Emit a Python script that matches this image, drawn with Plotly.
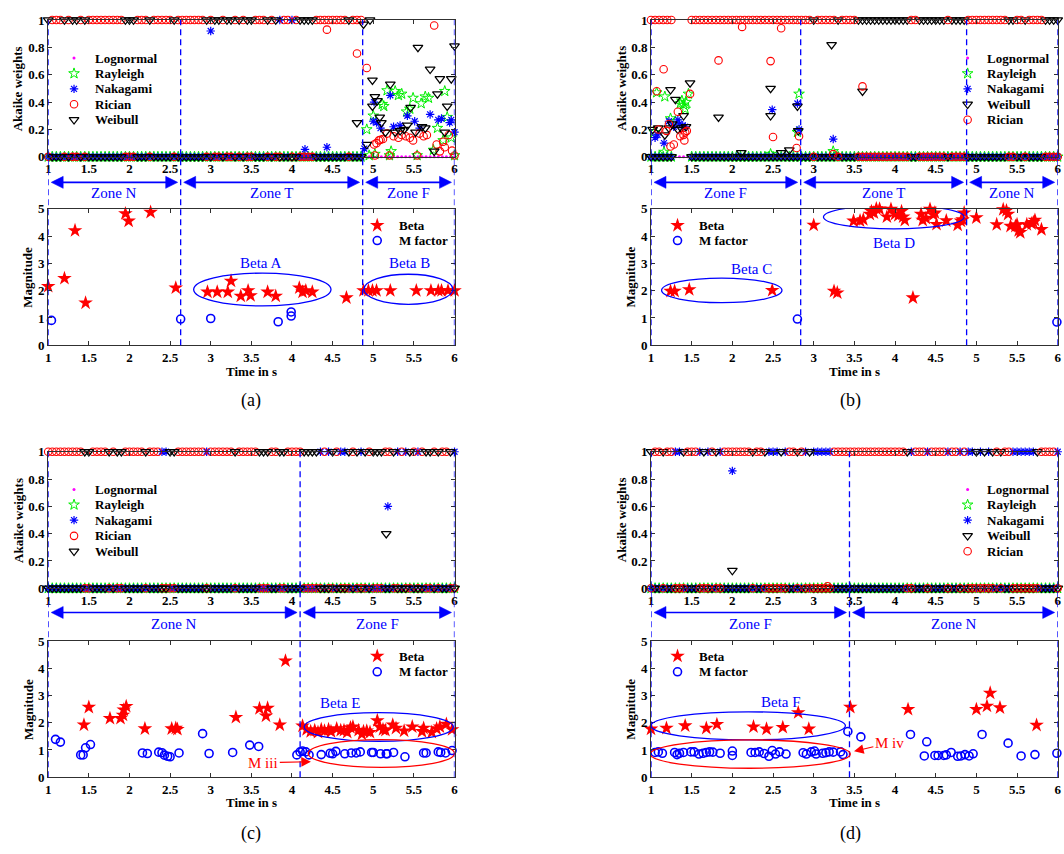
import numpy as np
import plotly.graph_objects as go

W, H = 1064, 854
FONT = "Liberation Serif, Times New Roman, serif"

# ---------------- shared axis data ----------------
t_grid = np.round(np.arange(1.0, 6.0 + 1e-9, 0.05), 2)   # analysis time instants (s)
x_tick_vals = [1, 1.5, 2, 2.5, 3, 3.5, 4, 4.5, 5, 5.5, 6]
x_tick_text = ["1", "1.5", "2", "2.5", "3", "3.5", "4", "4.5", "5", "5.5", "6"]
w_tick_vals = [0, 0.2, 0.4, 0.6, 0.8, 1]
w_tick_text = ["0", "0.2", "0.4", "0.6", "0.8", "1"]
m_tick_vals = [0, 1, 2, 3, 4, 5]
m_tick_text = ["0", "1", "2", "3", "4", "5"]

models_ac = ["Lognormal", "Rayleigh", "Nakagami", "Rician", "Weibull"]
models_bd = ["Lognormal", "Rayleigh", "Nakagami", "Weibull", "Rician"]

# ---------------- panel (a) ----------------
zone_bounds_a = [1.0, 2.63, 4.87, 6.0]
zone_names_a = ["Zone N", "Zone T", "Zone F"]
win_seg_a = [(1.00, 4.87, "Rician")]
mixed_a = [(4.87, 6.01)]
win_exc_a = {
    "Weibull": [1.00, 1.19, 1.28, 1.35, 1.44, 1.94, 1.98, 2.04, 2.07, 2.24, 2.57, 2.96, 3.03,
                3.09, 3.21, 3.26, 3.37, 3.45, 3.49, 3.70, 3.78, 4.09, 4.15, 4.19, 4.25, 4.68],
    "Nakagami": [3.86, 3.98],
}
mid_a = {
    "Weibull": [(4.80, 0.25), (4.88, 0.97), (4.92, 0.09), (4.96, 1.0), (4.99, 0.56), (4.99, 0.37),
                (5.02, 0.44), (5.05, 0.41), (5.08, 0.29), (5.10, 0.25), (5.15, 0.18), (5.21, 0.53),
                (5.27, 0.18), (5.33, 0.19), (5.38, 0.20), (5.42, 0.23), (5.46, 0.36), (5.52, 0.18),
                (5.55, 0.80), (5.60, 0.22), (5.64, 0.21), (5.70, 0.64), (5.75, 0.04), (5.79, 0.46),
                (5.82, 0.57), (5.88, 0.18), (5.91, 0.37), (5.96, 0.57), (6.00, 0.81)],
    "Rayleigh": [(4.92, 0.20), (4.95, 0.01), (5.00, 0.30), (5.02, 0.02), (5.11, 0.385), (5.13, 0.37),
                 (5.17, 0.485), (5.20, 0.01), (5.22, 0.04), (5.27, 0.48), (5.31, 0.45), (5.35, 0.46),
                 (5.41, 0.33), (5.45, 0.35), (5.49, 0.43), (5.54, 0.01), (5.59, 0.39), (5.64, 0.44),
                 (5.68, 0.43), (5.74, 0.05), (5.79, 0.21), (5.86, 0.12), (5.88, 0.48), (5.91, 0.29),
                 (5.96, 0.14), (6.00, 0.01)],
    "Nakagami": [(3.00, 0.92), (4.16, 0.055), (4.43, 0.07), (4.89, 0.06), (5.00, 0.26), (5.01, 0.40),
                 (5.04, 0.25), (5.09, 0.21), (5.21, 0.45), (5.25, 0.22), (5.33, 0.23), (5.42, 0.30),
                 (5.51, 0.26), (5.57, 0.21), (5.70, 0.31), (5.80, 0.27), (5.84, 0.28), (5.94, 0.25),
                 (5.96, 0.27), (6.00, 0.18)],
    "Rician": [(4.43, 0.93), (4.80, 0.755), (4.92, 0.65), (5.01, 0.09), (5.04, 0.10), (5.07, 0.12),
               (5.09, 0.125), (5.12, 0.13), (5.17, 0.17), (5.02, 0.01), (5.20, 0.01), (5.25, 0.15),
               (5.31, 0.14), (5.35, 0.16), (5.40, 0.15), (5.45, 0.14), (5.49, 0.12), (5.54, 0.01),
               (5.57, 0.17), (5.62, 0.15), (5.66, 0.16), (5.75, 0.96), (5.78, 0.09), (5.82, 0.04),
               (5.86, 0.11), (5.88, 0.07), (5.93, 0.16), (5.97, 0.045), (6.00, 0.01)],
}
beta_t_a = [1.00, 1.20, 1.33, 1.46, 1.95, 1.99, 2.26, 2.57, 2.96, 3.08, 3.21, 3.25, 3.37, 3.46, 3.49,
            3.70, 3.80, 4.09, 4.13, 4.17, 4.25, 4.67, 4.88, 4.94, 4.99, 5.04, 5.21, 5.53, 5.71, 5.80,
            5.84, 5.92, 6.00]
beta_v_a = [2.16, 2.45, 4.20, 1.55, 4.82, 4.55, 4.87, 2.10, 1.95, 1.95, 1.95, 2.35, 1.80, 2.00, 1.82,
            1.95, 1.80, 2.10, 1.95, 2.00, 1.95, 1.74, 2.00, 2.00, 2.00, 2.00, 2.00, 2.00, 2.00, 2.00,
            2.00, 2.00, 2.00]
mfac_t_a = [1.04, 2.63, 3.00, 3.83, 3.99, 3.99]
mfac_v_a = [0.91, 0.96, 0.98, 0.86, 1.22, 1.07]
ell_a = [(2.79, 4.48, 1.44, 2.64, "blue"), (4.885, 5.98, 1.50, 2.60, "blue")]
lab_a = [("Beta A", 3.61, 3.00, "blue"), ("Beta B", 5.44, 3.00, "blue")]
arr_a = []

# ---------------- panel (b) ----------------
zone_bounds_b = [1.0, 2.84, 4.88, 6.0]
zone_names_b = ["Zone F", "Zone T", "Zone N"]
win_seg_b = [(1.00, 6.00, "Rician"), (3.52, 4.86, "Weibull")]
mixed_b = [(1.295, 1.455)]
win_exc_b = {
    "Weibull": [2.98, 3.28, 5.40, 5.44, 5.58, 5.62, 5.86, 5.90, 5.94, 5.98],
    "Rician": [4.20, 4.24, 4.66],
}
mid_b = {
    "Rician": [(1.07, 0.48), (1.09, 0.20), (1.155, 0.64), (1.19, 0.19), (1.22, 0.24), (1.24, 0.075),
               (1.28, 0.09), (1.33, 0.33), (1.36, 0.15), (1.40, 0.16), (1.41, 0.12), (1.42, 0.18),
               (1.44, 0.19), (1.48, 0.46), (1.83, 0.705), (2.12, 0.95), (2.47, 0.70), (2.50, 0.145),
               (2.60, 0.94), (2.79, 0.065), (2.82, 0.15), (3.24, 0.02), (3.60, 0.515)],
    "Weibull": [(1.02, 0.20), (1.09, 0.21), (1.17, 0.16), (1.22, 0.21), (1.24, 0.49), (1.26, 0.24),
                (1.30, 0.42), (1.33, 0.20), (1.37, 0.21), (1.40, 0.30), (1.43, 0.22), (1.48, 0.54),
                (1.83, 0.29), (2.11, 0.03), (2.47, 0.50), (2.47, 0.30), (2.60, 0.03), (2.70, 0.05),
                (2.80, 0.37), (2.81, 0.19), (3.22, 0.82), (3.60, 0.48)],
    "Rayleigh": [(1.04, 0.18), (1.07, 0.47), (1.16, 0.035), (1.17, 0.44), (1.24, 0.28), (1.30, 0.26),
                 (1.36, 0.39), (1.38, 0.41), (1.40, 0.38), (1.42, 0.35), (1.43, 0.40), (1.46, 0.46),
                 (2.47, 0.02), (2.80, 0.18), (2.82, 0.46), (3.24, 0.04)],
    "Nakagami": [(1.05, 0.14), (1.08, 0.16), (1.16, 0.10), (1.22, 0.26), (1.28, 0.22), (1.33, 0.27),
                 (1.35, 0.24), (1.39, 0.23), (1.42, 0.22), (2.49, 0.345), (2.80, 0.39), (2.82, 0.20),
                 (3.24, 0.13)],
}
beta_t_b = [1.24, 1.29, 1.47, 2.49, 3.00, 3.25, 3.29, 3.49, 3.57, 3.61, 3.69, 3.71, 3.74, 3.77, 3.81,
            3.90, 3.95, 4.00, 4.04, 4.08, 4.10, 4.12, 4.22, 4.32, 4.34, 4.38, 4.43, 4.47, 4.49, 4.51,
            4.63, 4.77, 4.81, 4.83, 4.85, 5.00, 5.25, 5.33, 5.37, 5.39, 5.42, 5.48, 5.50, 5.52, 5.54,
            5.62, 5.68, 5.70, 5.72, 5.80]
beta_v_b = [1.98, 1.98, 2.04, 2.01, 4.40, 1.98, 1.92, 4.55, 4.56, 4.60, 4.80, 4.90, 4.85, 5.00, 4.99,
            4.70, 4.98, 4.80, 4.75, 4.90, 4.70, 4.58, 1.74, 4.80, 4.58, 4.65, 4.98, 4.78, 4.85, 4.43,
            4.56, 4.40, 4.55, 4.60, 4.85, 4.67, 4.42, 4.97, 4.93, 4.80, 4.36, 4.36, 4.42, 4.20, 4.13,
            4.42, 4.45, 4.50, 4.58, 4.24]
mfac_t_b = [2.80, 5.99]
mfac_v_b = [0.96, 0.85]
ell_b = [(1.13, 2.61, 1.56, 2.46, "blue"), (3.12, 4.85, 4.26, 5.13, "blue")]
lab_b = [("Beta C", 2.24, 2.79, "blue"), ("Beta D", 3.99, 3.75, "blue")]
arr_b = []

# ---------------- panel (c) ----------------
zone_bounds_c = [1.0, 4.10, 6.0]
zone_names_c = ["Zone N", "Zone F"]
win_seg_c = [(1.00, 4.10, "Rician"), (4.11, 6.00, "Nakagami")]
mixed_c = []
win_exc_c = {
    "Weibull": [1.44, 1.50, 1.76, 1.86, 1.88, 1.92, 2.20, 2.52, 2.56, 3.32, 3.60, 3.64, 3.70, 3.84,
                3.90, 4.14, 4.18, 4.22, 4.26, 4.30, 4.40, 4.42, 4.50, 4.54, 4.72, 4.78, 4.80, 4.90,
                4.96, 5.00, 5.04, 5.10, 5.16, 5.24, 5.36, 5.46, 5.50, 5.58, 5.64, 5.70, 5.76, 5.82,
                5.88, 5.96],
    "Rician": [4.38, 4.56, 4.76, 4.94, 5.14, 5.20, 5.34, 5.48, 5.62, 5.74, 5.86, 5.92],
    "Nakagami": [2.42, 2.44, 2.46, 2.94],
}
mid_c = {"Nakagami": [(5.18, 0.60)], "Weibull": [(5.16, 0.40)]}
beta_t_c = [1.44, 1.50, 1.76, 1.89, 1.92, 1.93, 1.96, 2.19, 2.52, 2.57, 2.59, 3.31, 3.60, 3.68, 3.70,
            3.85, 3.92, 4.13, 4.18, 4.23, 4.28, 4.32, 4.36, 4.40, 4.45, 4.48, 4.55, 4.60, 4.64, 4.68,
            4.72, 4.75, 4.82, 4.86, 4.88, 4.92, 4.96, 5.05, 5.08, 5.12, 5.15, 5.24, 5.28, 5.38, 5.48,
            5.60, 5.62, 5.72, 5.78, 5.82, 5.90, 5.97]
beta_v_c = [1.92, 2.57, 2.16, 2.16, 2.28, 2.47, 2.60, 1.78, 1.78, 1.80, 1.76, 2.20, 2.52, 2.25, 2.54,
            1.92, 4.27, 1.88, 1.75, 1.68, 1.72, 1.65, 1.75, 1.70, 1.75, 1.68, 1.78, 1.72, 1.72, 1.65,
            1.82, 1.85, 1.72, 1.58, 1.68, 1.70, 1.65, 2.08, 1.85, 1.75, 1.72, 1.92, 1.80, 1.70, 1.85,
            1.68, 1.80, 1.65, 1.78, 1.85, 1.95, 1.75]
mfac_t_c = [1.09, 1.15, 1.40, 1.43, 1.46, 1.52, 2.16, 2.22, 2.36, 2.40, 2.43, 2.47, 2.50, 2.61, 2.90,
            2.98, 3.27, 3.48, 3.59, 4.06, 4.10, 4.13, 4.17, 4.21, 4.36, 4.47, 4.50, 4.54, 4.65, 4.73,
            4.79, 4.84, 4.98, 5.00, 5.09, 5.16, 5.17, 5.25, 5.39, 5.62, 5.65, 5.80, 5.83, 5.89, 5.97]
mfac_v_c = [1.39, 1.29, 0.82, 0.82, 1.08, 1.20, 0.89, 0.87, 0.92, 0.90, 0.81, 0.77, 0.75, 0.89, 1.60,
            0.87, 0.91, 1.18, 1.13, 0.82, 0.93, 0.96, 0.93, 0.82, 0.83, 0.88, 0.86, 0.95, 0.86, 0.89,
            0.89, 0.93, 0.91, 0.91, 0.86, 0.86, 0.86, 0.91, 0.75, 0.89, 0.89, 0.93, 0.91, 0.89, 0.98]
ell_c = [(4.15, 5.985, 1.32, 2.37, "blue"), (4.20, 6.00, 0.36, 1.38, "red")]
lab_c = [("Beta E", 4.59, 2.73, "blue")]
arr_c = [("M iii", 4.233, 0.57, 3.647, 0.53)]

# ---------------- panel (d) ----------------
zone_bounds_d = [1.0, 3.44, 6.0]
zone_names_d = ["Zone F", "Zone N"]
win_seg_d = [(1.00, 6.00, "Nakagami"), (1.86, 2.20, "Rician"), (3.45, 4.15, "Rician")]
mixed_d = []
win_exc_d = {
    "Rician": [1.04, 1.08, 1.12, 1.22, 1.26, 1.46, 1.50, 1.56, 1.76, 1.82, 2.28, 2.32, 2.36, 2.40,
               2.70, 2.76, 2.86, 2.96, 3.24, 3.28, 3.32, 3.36, 3.40, 4.24, 4.30, 4.36, 4.44, 4.50,
               4.56, 4.62, 4.70, 4.76, 4.84, 5.20, 5.24, 5.36, 5.42, 5.76, 5.80, 5.86, 5.90, 5.96],
    "Weibull": [1.00, 1.16, 1.40, 1.66, 1.78, 2.24, 2.42, 2.60, 2.80, 2.94, 4.16, 5.00, 5.12, 5.18,
                5.28, 5.74],
}
mid_d = {"Nakagami": [(2.00, 0.86)], "Weibull": [(2.00, 0.13)], "Rician": [(3.17, 0.015)]}
beta_t_d = [1.00, 1.19, 1.42, 1.68, 1.81, 2.26, 2.42, 2.62, 2.81, 2.94, 3.45, 4.16, 5.00, 5.13, 5.17,
            5.29, 5.74]
beta_v_d = [1.77, 1.80, 1.89, 1.80, 1.94, 1.85, 1.77, 1.83, 2.37, 1.77, 2.57, 2.49, 2.49, 2.61, 3.09,
            2.55, 1.91]
mfac_t_d = [1.05, 1.09, 1.14, 1.29, 1.32, 1.35, 1.40, 1.49, 1.53, 1.59, 1.64, 1.68, 1.72, 1.76, 1.85,
            2.00, 2.00, 2.23, 2.28, 2.33, 2.39, 2.45, 2.49, 2.53, 2.58, 2.66, 2.87, 2.91, 2.97, 3.01,
            3.03, 3.11, 3.15, 3.19, 3.24, 3.33, 3.36, 3.42, 3.58, 4.19, 4.36, 4.39, 4.49, 4.53, 4.60,
            4.63, 4.69, 4.77, 4.81, 4.86, 4.91, 4.96, 5.07, 5.39, 5.55, 5.72, 5.99]
mfac_v_d = [0.91, 0.93, 0.88, 0.91, 0.83, 0.88, 0.91, 0.93, 0.93, 0.85, 0.88, 0.91, 0.93, 0.92, 0.88,
            0.96, 0.80, 0.91, 0.91, 0.93, 0.87, 0.77, 0.98, 0.85, 0.93, 0.85, 0.90, 0.85, 0.93, 0.96,
            0.85, 0.88, 0.90, 0.93, 0.92, 0.93, 0.83, 1.68, 1.48, 1.57, 0.78, 1.30, 0.80, 0.80, 0.80,
            0.82, 0.91, 0.77, 0.78, 0.83, 0.78, 0.86, 1.57, 1.25, 0.78, 0.83, 0.88]
ell_d = [(1.00, 3.39, 1.37, 2.40, "blue"), (0.99, 3.45, 0.33, 1.37, "red")]
lab_d = [("Beta F", 2.60, 2.76, "blue")]
arr_d = [("M iv", 3.496, 0.95, 3.93, 1.26)]

# ---------------- styles ----------------
STYLE = {
    "Lognormal": dict(symbol="circle", size=3, color="#ff00ff", line=dict(width=0, color="#ff00ff")),
    "Rayleigh": dict(symbol="star-open", size=8, color="#00ee00", line=dict(width=1, color="#00ee00")),
    "Nakagami": dict(symbol="asterisk-open", size=7, color="#0000ff", line=dict(width=1.2, color="#0000ff")),
    "Rician": dict(symbol="circle-open", size=7.5, color="#ff0000", line=dict(width=1.1, color="#ff0000")),
    "Weibull": dict(symbol="triangle-down-open", size=8.5, color="#000000", line=dict(width=1.25, color="#000000")),
}
BETA_STYLE = dict(symbol="star", size=11, color="#ff0000", line=dict(width=0))
MF_STYLE = dict(symbol="circle-open", size=8, color="#0000ff", line=dict(width=1.6, color="#0000ff"))

# ---------------- layout geometry (pixels) ----------------
COLS = [(45.5, 454.5), (652.3, 1061.7)]
ROWS = [dict(top=(13.3, 152.5), bot=(205.3, 344.3), arrow_y=178.5, zone_y=189.8, time_y=371.0, lab_y=401.0,
             leg_top=[52.0, 67.7, 83.3, 99.0, 114.8], leg_bot=[222.3, 237.7]),
        dict(top=(452.7, 591.7), bot=(645.3, 784.0), arrow_y=616.3, zone_y=627.8, time_y=810.0, lab_y=841.0,
             leg_top=[491.0, 506.7, 522.3, 538.3, 554.0], leg_bot=[660.7, 676.7])]
COLX = [dict(akaike_x=15.0, mag_x=25.0, fig_lab_x=250.0, legt_m=71.5, legt_t=90.5, legb_m=376.7, legb_t=396.7),
        dict(akaike_x=622.3, mag_x=631.7, fig_lab_x=853.0, legt_m=971.0, legt_t=989.0, legb_m=679.0, legb_t=698.3)]

panels = [
    dict(lab="(a)", col=0, row=0, models=models_ac, seg=win_seg_a, exc=win_exc_a, mixed=mixed_a, mid=mid_a,
         bt=beta_t_a, bv=beta_v_a, mt=mfac_t_a, mv=mfac_v_a, zb=zone_bounds_a, zn=zone_names_a,
         ell=ell_a, elab=lab_a, arr=arr_a),
    dict(lab="(b)", col=1, row=0, models=models_bd, seg=win_seg_b, exc=win_exc_b, mixed=mixed_b, mid=mid_b,
         bt=beta_t_b, bv=beta_v_b, mt=mfac_t_b, mv=mfac_v_b, zb=zone_bounds_b, zn=zone_names_b,
         ell=ell_b, elab=lab_b, arr=arr_b),
    dict(lab="(c)", col=0, row=1, models=models_ac, seg=win_seg_c, exc=win_exc_c, mixed=mixed_c, mid=mid_c,
         bt=beta_t_c, bv=beta_v_c, mt=mfac_t_c, mv=mfac_v_c, zb=zone_bounds_c, zn=zone_names_c,
         ell=ell_c, elab=lab_c, arr=arr_c),
    dict(lab="(d)", col=1, row=1, models=models_bd, seg=win_seg_d, exc=win_exc_d, mixed=mixed_d, mid=mid_d,
         bt=beta_t_d, bv=beta_v_d, mt=mfac_t_d, mv=mfac_v_d, zb=zone_bounds_d, zn=zone_names_d,
         ell=ell_d, elab=lab_d, arr=arr_d),
]


def py(y):
    return 1 - y / H


def px(x):
    return x / W


def bold(s):
    return "<b>" + s + "</b>"


def model_xy(model, seg, exc, mixed, mid):
    winner = np.full(t_grid.shape, "", dtype=object)
    for t0, t1, m in seg:
        winner[(t_grid >= t0 - 1e-9) & (t_grid <= t1 + 1e-9)] = m
    for m, times in exc.items():
        for tt in times:
            winner[int(np.argmin(np.abs(t_grid - tt)))] = m
    mask = np.ones(t_grid.shape, bool)
    if model != "Lognormal":
        for a, b in mixed:
            mask &= ~((t_grid > a) & (t_grid < b))
    xs = list(t_grid[mask])
    ys = list(np.where(winner[mask] == model, 1.0, 0.0))
    for tt, ww in mid.get(model, []):
        xs.append(tt)
        ys.append(ww)
    return xs, ys


AXCOL = "#303030"
tickfont = dict(family=FONT, size=13, color="black")
TXT = dict(family=FONT, size=13, color="black")


def xaxis_cfg(dom, anchor):
    return dict(domain=dom, anchor=anchor, range=[1, 6], tickvals=x_tick_vals,
                ticktext=[bold(s) for s in x_tick_text],
                ticks="inside", ticklen=4, tickcolor=AXCOL, showline=True, linecolor=AXCOL, linewidth=1,
                mirror="ticks", showgrid=False, zeroline=False, tickfont=tickfont, fixedrange=True)


def yaxis_cfg(dom, anchor, rng, tv, tt):
    return dict(domain=dom, anchor=anchor, range=rng, tickvals=tv, ticktext=[bold(s) for s in tt],
                ticks="inside", ticklen=4, tickcolor=AXCOL, showline=True, linecolor=AXCOL, linewidth=1,
                mirror="ticks", showgrid=False, zeroline=False, tickfont=tickfont, fixedrange=True)


fig = go.Figure()
layout = dict(width=W, height=H, autosize=False, margin=dict(l=0, r=0, t=0, b=0),
              paper_bgcolor="white", plot_bgcolor="rgba(0,0,0,0)", showlegend=False, hovermode=False)
shapes, annots = [], []

for k, p in enumerate(panels):
    c, r = COLX[p["col"]], ROWS[p["row"]]
    x0p, x1p = COLS[p["col"]]
    ppu = (x1p - x0p) / 5.0
    i_top, i_bot = 2 * k + 1, 2 * k + 2
    xt, yt = f"x{i_top}", f"y{i_top}"
    xb, yb = f"x{i_bot}", f"y{i_bot}"
    xdom = [px(x0p), px(x1p)]
    layout[f"xaxis{i_top}"] = xaxis_cfg(xdom, yt)
    layout[f"yaxis{i_top}"] = yaxis_cfg([py(r["top"][1]), py(r["top"][0])], xt, [0, 1], w_tick_vals, w_tick_text)
    layout[f"xaxis{i_bot}"] = xaxis_cfg(xdom, yb)
    layout[f"yaxis{i_bot}"] = yaxis_cfg([py(r["bot"][1]), py(r["bot"][0])], xb, [0, 5], m_tick_vals, m_tick_text)

    # Akaike weight traces
    for m in p["models"]:
        xs, ys = model_xy(m, p["seg"], p["exc"], p["mixed"], p["mid"])
        fig.add_trace(go.Scatter(x=xs, y=ys, mode="markers", marker=STYLE[m], name=m,
                                 xaxis=xt, yaxis=yt, cliponaxis=False, showlegend=False))
    # Magnitude traces
    fig.add_trace(go.Scatter(x=p["bt"], y=p["bv"], mode="markers", marker=BETA_STYLE, name="Beta",
                             xaxis=xb, yaxis=yb, cliponaxis=False, showlegend=False))
    fig.add_trace(go.Scatter(x=p["mt"], y=p["mv"], mode="markers", marker=MF_STYLE, name="M factor",
                             xaxis=xb, yaxis=yb, cliponaxis=False, showlegend=False))

    # zone dashed lines spanning both axes
    for b in p["zb"]:
        shapes.append(dict(type="line", xref=xt, yref="paper", x0=b, x1=b,
                           y0=py(r["bot"][1]), y1=py(r["top"][0]),
                           line=dict(color="#0000ff", width=1.3, dash="6px,4px")))
    # zone arrows + labels
    gap = 3.0 / ppu
    ay = py(r["arrow_y"])
    for i, name in enumerate(p["zn"]):
        a0, a1 = p["zb"][i], p["zb"][i + 1]
        shapes.append(dict(type="line", xref=xt, yref="paper", x0=a0 + gap + 8 / ppu, x1=a1 - gap - 8 / ppu,
                           y0=ay, y1=ay, line=dict(color="#0000ff", width=1.6)))
        shapes.append(dict(type="path", xref=xt, yref="paper", xsizemode="pixel", ysizemode="pixel",
                           xanchor=a0, yanchor=ay, path="M 3,0 L 15,6 L 15,-6 Z",
                           fillcolor="#0000ff", line=dict(color="#0000ff", width=0.5)))
        shapes.append(dict(type="path", xref=xt, yref="paper", xsizemode="pixel", ysizemode="pixel",
                           xanchor=a1, yanchor=ay, path="M -3,0 L -15,6 L -15,-6 Z",
                           fillcolor="#0000ff", line=dict(color="#0000ff", width=0.5)))
        annots.append(dict(text=name, xref=xt, yref="paper", x=(a0 + a1) / 2, y=py(r["zone_y"]),
                           showarrow=False, xanchor="center", yanchor="middle",
                           font=dict(family=FONT, size=15, color="#0000ff")))
    # ellipses
    for (e0, e1, f0, f1, col) in p["ell"]:
        shapes.append(dict(type="circle", xref=xb, yref=yb, x0=e0, x1=e1, y0=f0, y1=f1,
                           line=dict(color=col, width=1.3)))
    for (txt, tx, ty, col) in p["elab"]:
        annots.append(dict(text=txt, xref=xb, yref=yb, x=tx, y=ty, showarrow=False,
                           font=dict(family=FONT, size=15, color=col)))
    for (txt, hx, hy, tx, ty) in p["arr"]:
        annots.append(dict(text=txt, xref=xb, yref=yb, x=hx, y=hy, axref=xb, ayref=yb, ax=tx, ay=ty,
                           showarrow=True, arrowhead=2, arrowsize=1.6, arrowwidth=1.2, arrowcolor="#ff0000",
                           standoff=0, font=dict(family=FONT, size=15, color="#ff0000")))
    # axis titles
    annots.append(dict(text=bold("Akaike weights"), xref="paper", yref="paper", x=px(c["akaike_x"]),
                       y=py((r["top"][0] + r["top"][1]) / 2), textangle=-90, showarrow=False,
                       xanchor="center", yanchor="middle", font=TXT))
    annots.append(dict(text=bold("Magnitude"), xref="paper", yref="paper", x=px(c["mag_x"]),
                       y=py((r["bot"][0] + r["bot"][1]) / 2), textangle=-90, showarrow=False,
                       xanchor="center", yanchor="middle", font=TXT))
    annots.append(dict(text=bold("Time in s"), xref="paper", yref="paper", x=px((x0p + x1p) / 2),
                       y=py(r["time_y"]), showarrow=False, xanchor="center", yanchor="middle", font=TXT))
    annots.append(dict(text=p["lab"], xref="paper", yref="paper", x=px(c["fig_lab_x"]), y=py(r["lab_y"]),
                       showarrow=False, xanchor="center", yanchor="middle",
                       font=dict(family=FONT, size=18, color="black")))

    # hand-placed legends (overlay pixel axis)
    for j, m in enumerate(p["models"]):
        fig.add_trace(go.Scatter(x=[c["legt_m"]], y=[r["leg_top"][j]], mode="markers", marker=STYLE[m],
                                 xaxis="x9", yaxis="y9", cliponaxis=False, showlegend=False))
        annots.append(dict(text=bold(m), xref="x9", yref="y9", x=c["legt_t"], y=r["leg_top"][j],
                           showarrow=False, xanchor="left", yanchor="middle", font=TXT))
    for j, (nm, st) in enumerate([("Beta", BETA_STYLE), ("M factor", MF_STYLE)]):
        fig.add_trace(go.Scatter(x=[c["legb_m"]], y=[r["leg_bot"][j]], mode="markers", marker=st,
                                 xaxis="x9", yaxis="y9", cliponaxis=False, showlegend=False))
        annots.append(dict(text=bold(nm), xref="x9", yref="y9", x=c["legb_t"], y=r["leg_bot"][j],
                           showarrow=False, xanchor="left", yanchor="middle", font=TXT))

layout["xaxis9"] = dict(domain=[0, 1], anchor="y9", range=[0, W], visible=False, fixedrange=True)
layout["yaxis9"] = dict(domain=[0, 1], anchor="x9", range=[H, 0], visible=False, fixedrange=True)
layout["shapes"] = shapes
layout["annotations"] = annots
fig.update_layout(**layout)
fig.write_html("out.html")
